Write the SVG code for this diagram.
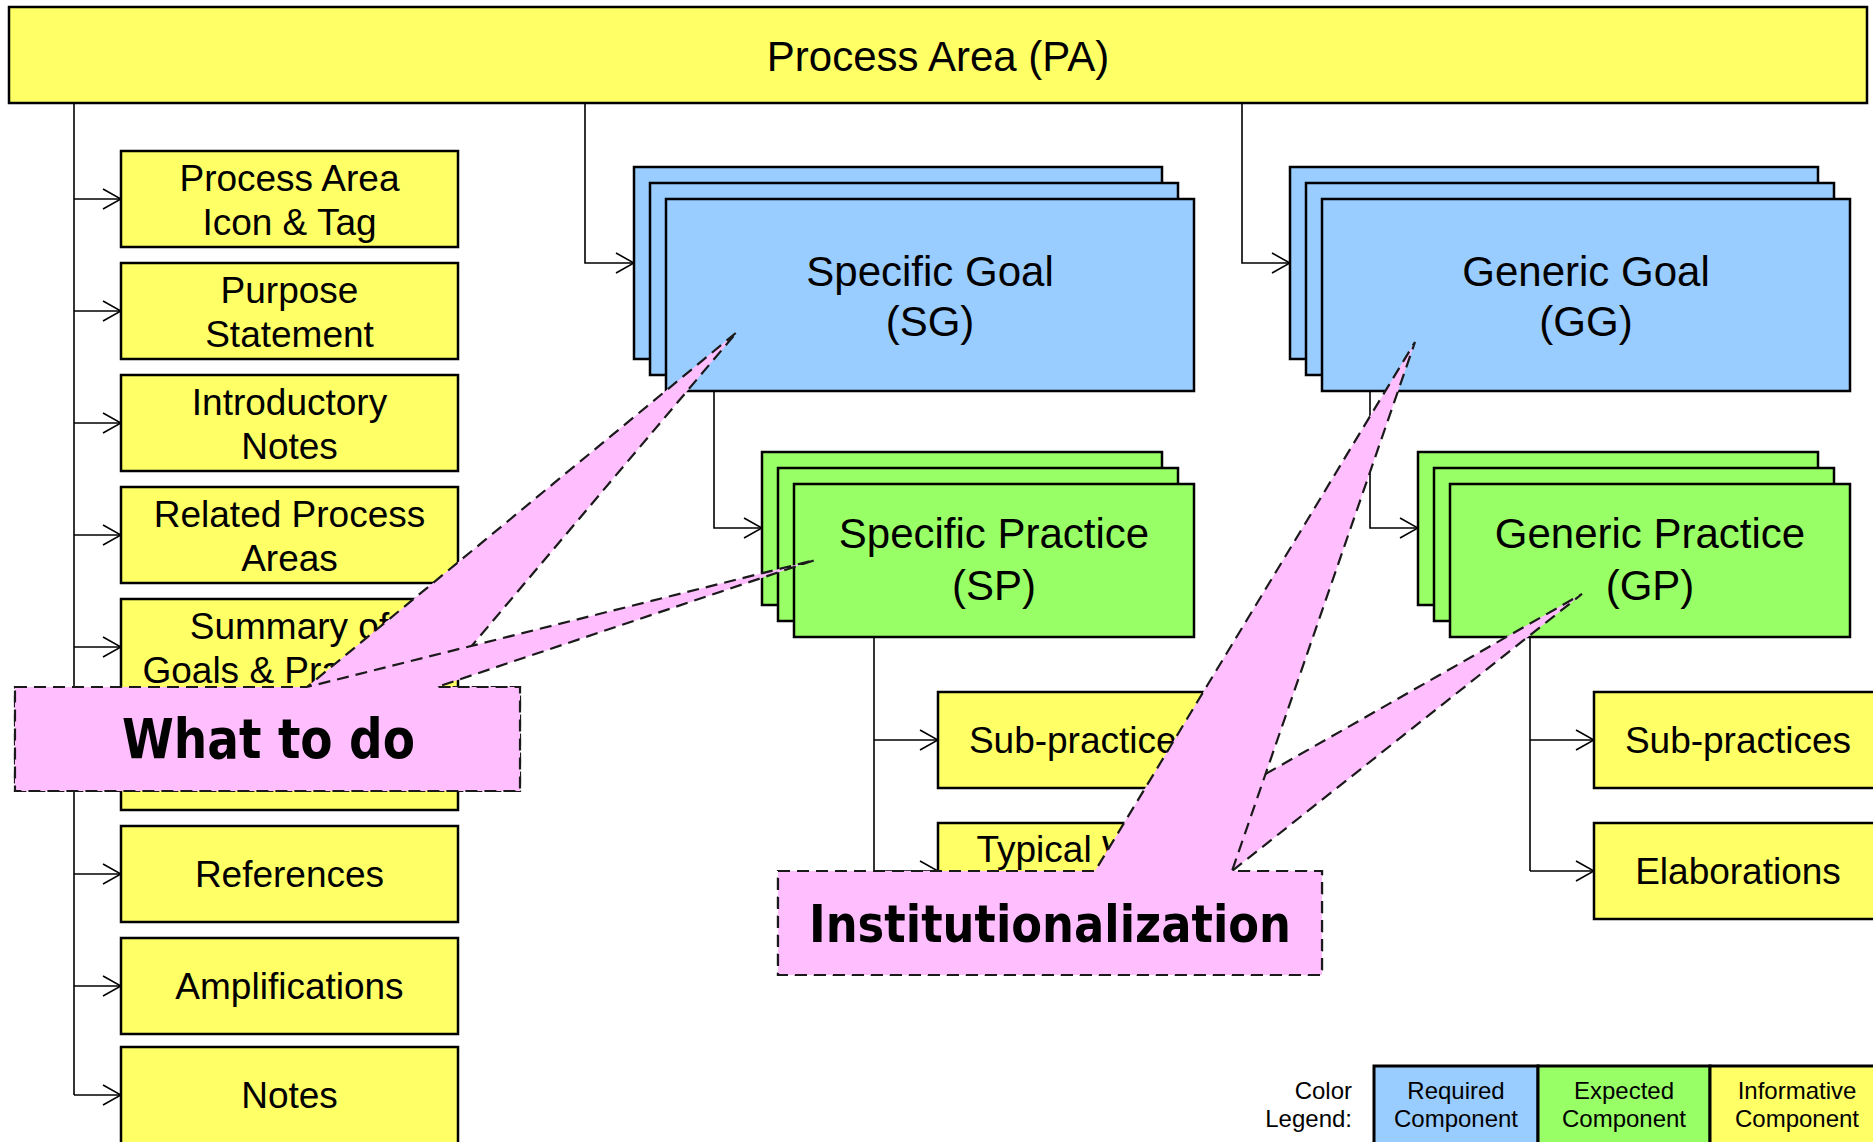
<svg xmlns="http://www.w3.org/2000/svg" width="1873" height="1142" viewBox="0 0 1873 1142">
<defs>
<marker id="arr" markerUnits="userSpaceOnUse" markerWidth="20" markerHeight="22" viewBox="0 0 20 22" refX="19" refY="11" orient="auto"><path d="M1,1 L19,11 L1,21" fill="none" stroke="#000" stroke-width="1.6"/></marker>
</defs>
<style>
.y{fill:#FFFF66;stroke:#000;stroke-width:2.5}
.b{fill:#99CCFF;stroke:#000;stroke-width:2.5}
.g{fill:#99FF66;stroke:#000;stroke-width:2.5}
.t{font-family:"Liberation Sans",Arial,sans-serif;fill:#000;text-anchor:middle}
.s37{font-size:37px}
.s42{font-size:42px}
.s24{font-size:24px}
.c{fill:none;stroke:#000;stroke-width:1.6}
.ca{fill:none;stroke:#000;stroke-width:1.6;marker-end:url(#arr)}
.co{fill:#FFBFFF;stroke:#1a1a1a;stroke-width:2.2;stroke-dasharray:12 7}
.ct{font-family:"DejaVu Sans","Liberation Sans",sans-serif;font-weight:bold;fill:#000}
</style>
<rect width="1873" height="1142" fill="#fff"/>

<g id="pa"><rect class="y" x="9" y="7" width="1858" height="96"/><text class="t s42" x="938" y="71">Process Area (PA)</text></g>

<g id="n-icon"><rect class="y" x="121" y="151" width="337" height="96"/><text class="t s37" x="289.5" y="191">Process Area</text><text class="t s37" x="289.5" y="235">Icon &amp; Tag</text></g>
<g id="n-purpose"><rect class="y" x="121" y="263" width="337" height="96"/><text class="t s37" x="289.5" y="303">Purpose</text><text class="t s37" x="289.5" y="347">Statement</text></g>
<g id="n-intro"><rect class="y" x="121" y="375" width="337" height="96"/><text class="t s37" x="289.5" y="415">Introductory</text><text class="t s37" x="289.5" y="459">Notes</text></g>
<g id="n-related"><rect class="y" x="121" y="487" width="337" height="96"/><text class="t s37" x="289.5" y="527">Related Process</text><text class="t s37" x="289.5" y="571">Areas</text></g>
<g id="n-summary"><rect class="y" x="121" y="599" width="337" height="96"/><text class="t s37" x="289.5" y="639">Summary of</text><text class="t s37" x="289.5" y="683">Goals &amp; Practices</text></g>
<g id="n-hidden"><rect class="y" x="121" y="714" width="337" height="96"/></g>
<g id="n-refs"><rect class="y" x="121" y="826" width="337" height="96"/><text class="t s37" x="289.5" y="887">References</text></g>
<g id="n-ampl"><rect class="y" x="121" y="938" width="337" height="96"/><text class="t s37" x="289.5" y="999">Amplifications</text></g>
<g id="n-notes"><rect class="y" x="121" y="1047" width="337" height="100"/><text class="t s37" x="289.5" y="1108">Notes</text></g>

<g id="sg"><rect class="b" x="634" y="167" width="528" height="192"/><rect class="b" x="650" y="183" width="528" height="192"/><rect class="b" x="666" y="199" width="528" height="192"/><text class="t s42" x="930" y="286">Specific Goal</text><text class="t s42" x="930" y="336">(SG)</text></g>
<g id="sp"><rect class="g" x="762" y="452" width="400" height="153"/><rect class="g" x="778" y="468" width="400" height="153"/><rect class="g" x="794" y="484" width="400" height="153"/><text class="t s42" x="994" y="548">Specific Practice</text><text class="t s42" x="994" y="600">(SP)</text></g>
<g id="gg"><rect class="b" x="1290" y="167" width="528" height="192"/><rect class="b" x="1306" y="183" width="528" height="192"/><rect class="b" x="1322" y="199" width="528" height="192"/><text class="t s42" x="1586" y="286">Generic Goal</text><text class="t s42" x="1586" y="336">(GG)</text></g>
<g id="gp"><rect class="g" x="1418" y="452" width="400" height="153"/><rect class="g" x="1434" y="468" width="400" height="153"/><rect class="g" x="1450" y="484" width="400" height="153"/><text class="t s42" x="1650" y="548">Generic Practice</text><text class="t s42" x="1650" y="600">(GP)</text></g>

<g id="sp-sub"><rect class="y" x="938" y="692" width="288" height="96"/><text class="t s37" x="1082" y="753">Sub-practices</text></g>
<g id="sp-twp"><rect class="y" x="938" y="823" width="288" height="96"/><text class="t s37" x="1082" y="862">Typical Work</text></g>
<g id="gp-sub"><rect class="y" x="1594" y="692" width="288" height="96"/><text class="t s37" x="1738" y="753">Sub-practices</text></g>
<g id="gp-elab"><rect class="y" x="1594" y="823" width="288" height="96"/><text class="t s37" x="1738" y="884">Elaborations</text></g>

<g id="connectors">
<path class="c" d="M74,103 V1095"/>
<path class="ca" d="M74,199 H121"/>
<path class="ca" d="M74,311 H121"/>
<path class="ca" d="M74,423 H121"/>
<path class="ca" d="M74,535 H121"/>
<path class="ca" d="M74,647 H121"/>
<path class="ca" d="M74,762 H121"/>
<path class="ca" d="M74,874 H121"/>
<path class="ca" d="M74,986 H121"/>
<path class="ca" d="M74,1095 H121"/>
<path class="ca" d="M585,103 V263 H634"/>
<path class="ca" d="M1242,103 V263 H1290"/>
<path class="ca" d="M714,391 V528 H762"/>
<path class="ca" d="M1370,391 V528 H1418"/>
<path class="c" d="M874,637 V871"/>
<path class="ca" d="M874,740 H938"/>
<path class="ca" d="M874,871 H938"/>
<path class="c" d="M1530,637 V871"/>
<path class="ca" d="M1530,740 H1594"/>
<path class="ca" d="M1530,871 H1594"/>
</g>

<g id="legend">
<text class="t s24" style="text-anchor:end" x="1352" y="1099">Color</text>
<text class="t s24" style="text-anchor:end" x="1352" y="1127">Legend:</text>
<rect fill="#99CCFF" stroke="#000" stroke-width="3" x="1374" y="1066" width="164" height="90"/>
<rect fill="#99FF66" stroke="#000" stroke-width="3" x="1538" y="1066" width="172" height="90"/>
<rect fill="#FFFF66" stroke="#000" stroke-width="3" x="1710" y="1066" width="172" height="90"/>
<text class="t s24" x="1456" y="1099">Required</text><text class="t s24" x="1456" y="1127">Component</text>
<text class="t s24" x="1624" y="1099">Expected</text><text class="t s24" x="1624" y="1127">Component</text>
<text class="t s24" x="1797" y="1099">Informative</text><text class="t s24" x="1797" y="1127">Component</text>
</g>

<g id="callout-what">
<path class="co" d="M15,687 H307 L737,332 L437,687 H520 V791 H15 Z"/>
<path class="co" d="M15,687 H307 L815,560 L437,687 H520 V791 H15 Z"/>
<text class="ct" x="122" y="758" font-size="55" textLength="293" lengthAdjust="spacingAndGlyphs">What to do</text>
</g>

<g id="callout-inst">
<path class="co" d="M778,871 H1095 L1582,594 L1232,871 H1322 V975 H778 Z"/>
<path class="co" d="M778,871 H1095 L1415,342 L1232,871 H1322 V975 H778 Z"/>
<text class="ct" x="809" y="942" font-size="52" textLength="482" lengthAdjust="spacingAndGlyphs">Institutionalization</text>
</g>
</svg>
